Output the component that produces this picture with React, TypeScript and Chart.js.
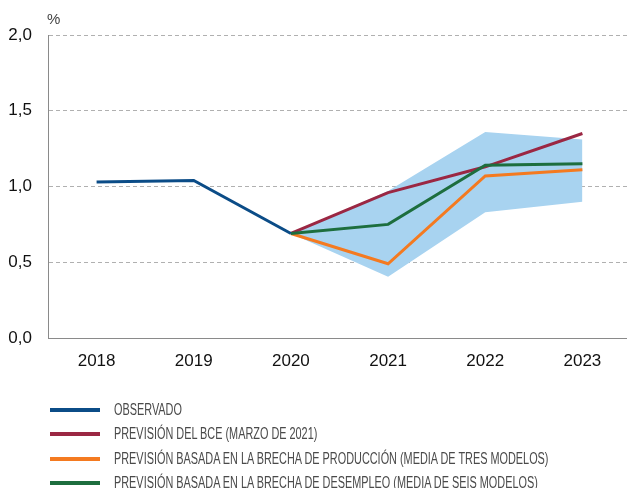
import React, { useEffect, useRef } from "react";
import { Chart, registerables } from "chart.js";

Chart.register(...registerables);

const years = ["2018", "2019", "2020", "2021", "2022", "2023"];
const observed = [1.03, 1.04, 0.69, null, null, null];
const ecbForecast = [null, null, 0.69, 0.96, 1.13, 1.35];
const outputGapForecast = [null, null, 0.69, 0.49, 1.07, 1.11];
const unemploymentGapForecast = [null, null, 0.69, 0.75, 1.14, 1.15];
const bandUpper = [null, null, 0.69, 0.97, 1.36, 1.31];
const bandLower = [null, null, 0.69, 0.405, 0.83, 0.9];
const yTicks = [0, 0.5, 1.0, 1.5, 2.0];

const legendItems = [
  { label: "OBSERVADO", color: "#0b4c87" },
  { label: "PREVISIÓN DEL BCE (MARZO DE 2021)", color: "#9b2743" },
  { label: "PREVISIÓN BASADA EN LA BRECHA DE PRODUCCIÓN (MEDIA DE TRES MODELOS)", color: "#f47a20" },
  { label: "PREVISIÓN BASADA EN LA BRECHA DE DESEMPLEO (MEDIA DE SEIS MODELOS)", color: "#1d6e3e" },
];

export default function App() {
  const ref = useRef<HTMLCanvasElement>(null);
  useEffect(() => {
    document.body.style.margin = "0";
    const ctx = ref.current!;
    const font = "'Liberation Sans', Arial, sans-serif";
    const chart = new Chart(ctx, {
      type: "line",
      data: {
        labels: years,
        datasets: [
          { label: "OBSERVADO", data: observed, borderColor: legendItems[0].color, borderWidth: 3, pointRadius: 0, fill: false, order: 1 },
          { label: "BCE", data: ecbForecast, borderColor: legendItems[1].color, borderWidth: 3, pointRadius: 0, fill: false, order: 4 },
          { label: "Producción", data: outputGapForecast, borderColor: legendItems[2].color, borderWidth: 3, pointRadius: 0, fill: false, order: 3 },
          { label: "Desempleo", data: unemploymentGapForecast, borderColor: legendItems[3].color, borderWidth: 3, pointRadius: 0, fill: false, order: 2 },
          { label: "upper", data: bandUpper, borderWidth: 0, borderColor: "rgba(0,0,0,0)", backgroundColor: "#a8d3f0", pointRadius: 0, fill: "+1", order: 10 },
          { label: "lower", data: bandLower, borderWidth: 0, borderColor: "rgba(0,0,0,0)", backgroundColor: "#a8d3f0", pointRadius: 0, fill: false, order: 11 },
        ],
      },
      options: {
        animation: false,
        responsive: false,
        maintainAspectRatio: false,
        layout: { padding: { top: 35, left: 0, right: 0, bottom: 0 } },
        plugins: { legend: { display: false }, tooltip: { enabled: false } },
        scales: {
          x: {
            offset: true,
            grid: { display: false, drawTicks: false },
            border: { display: true, color: "#8a8a8a", width: 1 },
            ticks: { color: "#111", font: { family: font, size: 17 }, padding: 13, maxRotation: 0 },
            afterFit: (s: any) => { s.height = 150; },
          },
          y: {
            min: 0,
            max: 2,
            afterBuildTicks: (s: any) => { s.ticks = yTicks.map((v) => ({ value: v })); },
            grid: { color: "#b0b0b0", drawTicks: false },
            border: { display: true, color: "#8a8a8a", width: 1, dash: [4, 3] },
            ticks: {
              color: "#111",
              font: { family: font, size: 17 },
              padding: 16,
              callback: (v: any) => Number(v).toFixed(1).replace(".", ","),
            },
            afterFit: (s: any) => { s.width = 48; },
          },
        },
      },
    });
    return () => chart.destroy();
  }, []);

  return (
    <div style={{ position: "relative", width: 627, height: 488, overflow: "hidden", fontFamily: "'Liberation Sans', Arial, sans-serif" }}>
      <canvas ref={ref} width={631} height={488} style={{ position: "absolute", left: 0, top: 0, width: 631, height: 488 }} />
      <div style={{ position: "absolute", left: 47, top: 10, fontSize: 15, color: "#444" }}>%</div>
      {legendItems.map((it, i) => (
        <div key={i} style={{ position: "absolute", left: 50, top: 410 + i * 24.3 - 10, height: 20, display: "flex", alignItems: "center" }}>
          <div style={{ width: 50, height: 4, background: it.color }} />
          <div style={{ marginLeft: 14, fontSize: 16, color: "#4a4a4a", whiteSpace: "nowrap", transform: "scaleX(0.68)", transformOrigin: "left center" }}>{it.label}</div>
        </div>
      ))}
    </div>
  );
}
